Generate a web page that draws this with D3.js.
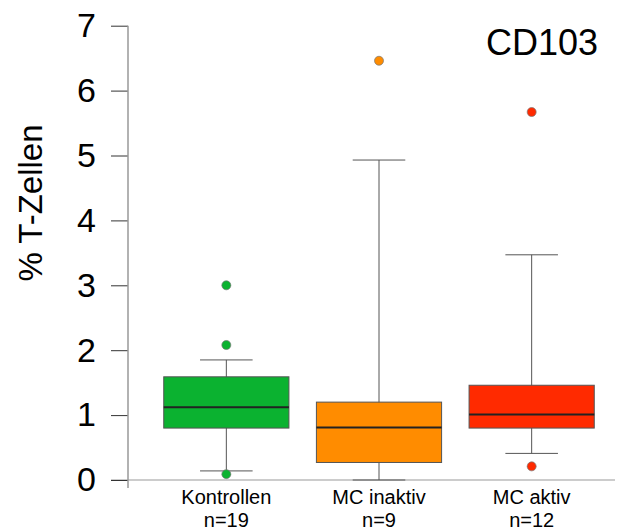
<!DOCTYPE html>
<html>
<head>
<meta charset="utf-8">
<script src="https://cdn.jsdelivr.net/npm/d3@7"></script>
<style>
  body { margin: 0; background: #fff; }
  text { font-family: "Liberation Sans", Arial, sans-serif; }
</style>
</head>
<body>
<div id="wrapper"></div>
<script>
const categories = ["Kontrollen", "MC inaktiv", "MC aktiv"];
const counts = ["n=19", "n=9", "n=12"];
const whiskerLow = [0.14, 0.0, 0.41];
const q1 = [0.80, 0.27, 0.80];
const median = [1.12, 0.81, 1.01];
const q3 = [1.59, 1.20, 1.46];
const whiskerHigh = [1.85, 4.93, 3.47];
const outliers = [[0.09, 2.08, 3.0], [6.46], [0.21, 5.67]];
const colors = ["#0bb230", "#ff8c00", "#ff2a00"];
const yTicks = [0, 1, 2, 3, 4, 5, 6, 7];

const width = 617, height = 532;

const svg = d3.select("#wrapper").append("svg")
  .attr("width", width)
  .attr("height", height);

const yScale = d3.scaleLinear()
  .domain([0, 7])
  .range([480, 25.7]);

const xScale = d3.scaleBand()
  .domain(categories)
  .range([150, 608])
  .paddingInner(0.18)
  .paddingOuter(0.09);

const bw = xScale.bandwidth();
const capW = bw * 0.42;

// x axis baseline
svg.append("line")
  .attr("x1", 111).attr("x2", 615)
  .attr("y1", yScale(0)).attr("y2", yScale(0))
  .attr("stroke", "#bbb")
  .attr("stroke-width", 1.5);

// y axis
const yAxis = svg.append("g")
  .attr("transform", "translate(128,0)")
  .call(d3.axisLeft(yScale).tickValues(yTicks).tickSize(17).tickPadding(15).tickFormat(d3.format("d")));
yAxis.select(".domain").remove();
yAxis.selectAll(".tick line").attr("stroke", "#333");
yAxis.selectAll(".tick text")
  .attr("font-size", 34)
  .attr("fill", "#000")
  .style("font-family", "'Liberation Sans', Arial, sans-serif");
svg.append("line")
  .attr("x1", 128).attr("x2", 128)
  .attr("y1", yScale(7)).attr("y2", 488)
  .attr("stroke", "#999")
  .attr("stroke-width", 1.5);

const groups = svg.selectAll(".box")
  .data(categories)
  .join("g")
  .attr("class", "box");

groups.each(function(cat, i) {
  const g = d3.select(this);
  const x0 = xScale(cat);
  const cx = x0 + bw / 2;

  // whisker line
  g.append("line")
    .attr("x1", cx).attr("x2", cx)
    .attr("y1", yScale(whiskerLow[i])).attr("y2", yScale(whiskerHigh[i]))
    .attr("stroke", "#555");
  [whiskerLow[i], whiskerHigh[i]].forEach(v => {
    g.append("line")
      .attr("x1", cx - capW / 2).attr("x2", cx + capW / 2)
      .attr("y1", yScale(v)).attr("y2", yScale(v))
      .attr("stroke", "#555");
  });

  g.append("rect")
    .attr("x", x0)
    .attr("width", bw)
    .attr("y", yScale(q3[i]))
    .attr("height", yScale(q1[i]) - yScale(q3[i]))
    .attr("fill", colors[i])
    .attr("stroke", "#555");

  g.append("line")
    .attr("x1", x0).attr("x2", x0 + bw)
    .attr("y1", yScale(median[i])).attr("y2", yScale(median[i]))
    .attr("stroke", "#222")
    .attr("stroke-width", 2);

  g.selectAll("circle")
    .data(outliers[i])
    .join("circle")
    .attr("cx", cx)
    .attr("cy", d => yScale(d))
    .attr("r", 4.5)
    .attr("fill", colors[i])
    .attr("stroke", "#777")
    .attr("stroke-width", 0.7);

  g.append("text")
    .attr("x", cx)
    .attr("y", 504)
    .attr("text-anchor", "middle")
    .attr("font-size", 20)
    .text(cat);
  g.append("text")
    .attr("x", cx)
    .attr("y", 527)
    .attr("text-anchor", "middle")
    .attr("font-size", 20)
    .text(counts[i]);
});

// y label
svg.append("text")
  .attr("transform", "translate(42,203) rotate(-90)")
  .attr("text-anchor", "middle")
  .attr("font-size", 33)
  .text("% T-Zellen");

// title
svg.append("text")
  .attr("x", 598)
  .attr("y", 55)
  .attr("text-anchor", "end")
  .attr("font-size", 36)
  .text("CD103");
</script>
</body>
</html>
